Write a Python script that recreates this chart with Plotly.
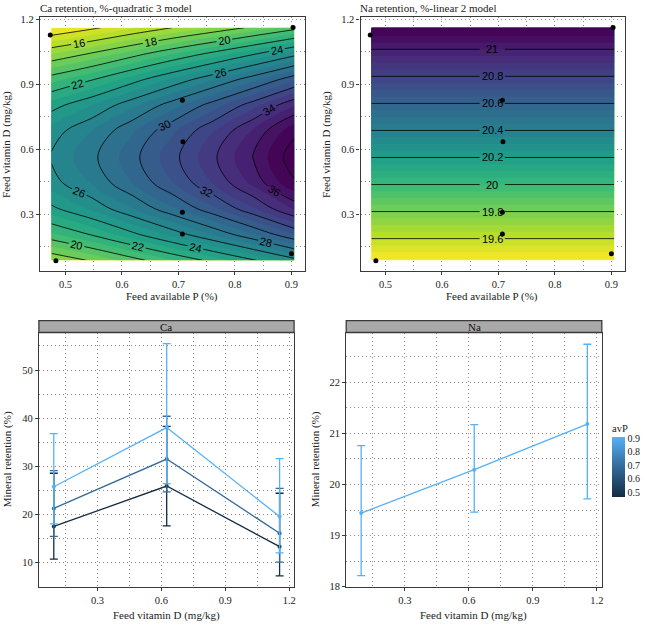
import plotly.graph_objects as go

# ---------------- data ----------------
# Ca retention response surface (read from the contour map)
P_grid = [0.475, 0.547, 0.618, 0.69, 0.762, 0.833, 0.905]
D_grid = [0.0875, 0.207, 0.326, 0.446, 0.565, 0.685, 0.804, 0.924, 1.043, 1.162]
ca_z = [
    [17.00, 18.17, 19.54, 20.96, 22.39, 23.90, 25.60],
    [20.78, 22.12, 23.70, 25.38, 27.10, 28.94, 31.01],
    [23.74, 25.21, 26.96, 28.83, 30.79, 32.88, 35.25],
    [25.58, 27.13, 28.99, 30.98, 33.09, 35.34, 37.88],
    [26.15, 27.73, 29.62, 31.65, 33.80, 36.10, 38.70],
    [25.46, 27.01, 28.86, 30.85, 32.94, 35.18, 37.72],
    [23.53, 24.99, 26.73, 28.59, 30.53, 32.61, 34.95],
    [20.57, 21.89, 23.47, 25.13, 26.83, 28.65, 30.71],
    [16.93, 18.09, 19.45, 20.88, 22.29, 23.80, 25.50],
    [12.77, 13.75, 14.88, 16.02, 17.11, 18.26, 19.55],
]
# Na retention surface (linear in vitamin D)
na_P = [0.475, 0.905]
na_D = [0.0875, 1.162]
na_z = [[19.44, 19.44], [21.16, 21.16]]
na_levels = [19.6, 19.8, 20.0, 20.2, 20.4, 20.6, 20.8, 21.0]

# design points
pts_P = [0.473, 0.903, 0.707, 0.708, 0.707, 0.707, 0.900, 0.483]
pts_D = [1.128, 1.163, 0.827, 0.635, 0.309, 0.209, 0.117, 0.085]

# interaction plots
vitD = [0.095, 0.625, 1.155]
avP_levels = [0.473, 0.70, 0.90]
ca_mean_lo = [17.5, 25.9, 13.3]
ca_low_lo = [10.7, 17.6, 7.25]
ca_high_lo = [28.55, 38.3, 24.4]
ca_mean_mid = [21.25, 31.5, 16.1]
ca_low_mid = [15.45, 24.7, 10.1]
ca_high_mid = [29.1, 40.4, 25.4]
ca_mean_hi = [25.75, 38.05, 19.55]
ca_low_hi = [18.05, 26.4, 12.0]
ca_high_hi = [36.8, 55.5, 31.6]
na_mean = [19.44, 20.29, 21.18]
na_low = [18.22, 19.46, 19.72]
na_high = [20.76, 21.17, 22.74]

# ---------------- styling ----------------
SERIF = "Liberation Serif"
SANS = "Liberation Sans"
W, H = 645, 627
line_cols = ["#132B43", "#336A98", "#56B1F7"]
avp_scale = [[0, "#132B43"], [0.5, "#336A98"], [1, "#56B1F7"]]
GRID_DASH = "1px,3px"
GRID_COL = "#8c8c8c"
NA_LABEL_P = 0.689          # where the Na contour labels sit
NA_GAP = (0.667, 0.711)     # gap left in the Na contour lines for the labels


def px_x(v):
    return v / W


def px_y(v):
    return 1 - v / H


fig = go.Figure()

# ---- top-left: Ca contour ----
fig.add_trace(go.Contour(
    x=P_grid, y=D_grid, z=ca_z, colorscale="Viridis", reversescale=True,
    zmin=12.77, zmax=38.7, showscale=False, hoverinfo="skip",
    contours=dict(coloring="fill", start=12, end=40, size=1, showlines=False),
    line=dict(width=0), xaxis="x", yaxis="y"))
fig.add_trace(go.Contour(
    x=P_grid, y=D_grid, z=ca_z, showscale=False, hoverinfo="skip",
    contours=dict(coloring="none", start=14, end=38, size=2, showlabels=True,
                  labelfont=dict(family=SANS, size=11, color="black"),
                  labelformat=".3~g"),
    line=dict(color="black", width=0.8), xaxis="x", yaxis="y"))
fig.add_trace(go.Scatter(
    x=pts_P, y=pts_D, mode="markers", marker=dict(color="black", size=5),
    cliponaxis=False, showlegend=False, xaxis="x", yaxis="y"))

# ---- top-right: Na contour ----
fig.add_trace(go.Contour(
    x=na_P, y=na_D, z=na_z, colorscale="Viridis", reversescale=True,
    zmin=19.44, zmax=21.16, showscale=False, hoverinfo="skip",
    contours=dict(coloring="fill", start=19.4, end=21.2, size=0.05, showlines=False),
    line=dict(width=0), xaxis="x2", yaxis="y2"))
for xs in ([na_P[0], NA_GAP[0]], [NA_GAP[1], na_P[1]]):
    fig.add_trace(go.Contour(
        x=xs, y=na_D, z=na_z, showscale=False, hoverinfo="skip",
        contours=dict(coloring="none", start=na_levels[0], end=na_levels[-1],
                      size=0.2, showlabels=False),
        line=dict(color="black", width=0.8), xaxis="x2", yaxis="y2"))
fig.add_trace(go.Scatter(
    x=pts_P, y=pts_D, mode="markers", marker=dict(color="black", size=5),
    cliponaxis=False, showlegend=False, xaxis="x2", yaxis="y2"))

# Na contour labels, located on the surface by linear interpolation
z0, z1 = na_z[0][0], na_z[1][0]
for lev in na_levels:
    d = na_D[0] + (lev - z0) / (z1 - z0) * (na_D[1] - na_D[0])
    fig.add_annotation(text=f"{lev:g}", x=NA_LABEL_P, y=d, xref="x2", yref="y2",
                       showarrow=False, xanchor="center", yanchor="middle",
                       font=dict(family=SANS, size=11, color="black"))

# ---- bottom-left: Ca interaction ----
ca_sets = [
    (ca_mean_lo, ca_low_lo, ca_high_lo),
    (ca_mean_mid, ca_low_mid, ca_high_mid),
    (ca_mean_hi, ca_low_hi, ca_high_hi),
]
for (m, lo, hi), col in zip(ca_sets, line_cols):
    fig.add_trace(go.Scatter(
        x=vitD, y=m, mode="lines+markers",
        line=dict(color=col, width=1.3), marker=dict(color=col, size=4),
        error_y=dict(type="data", symmetric=False,
                     array=[h - v for h, v in zip(hi, m)],
                     arrayminus=[v - l for v, l in zip(m, lo)],
                     color=col, thickness=1.3, width=4),
        showlegend=False, xaxis="x3", yaxis="y3"))

# ---- bottom-right: Na interaction ----
fig.add_trace(go.Scatter(
    x=vitD, y=na_mean, mode="lines+markers",
    line=dict(color=line_cols[2], width=1.3), marker=dict(color=line_cols[2], size=4),
    error_y=dict(type="data", symmetric=False,
                 array=[h - v for h, v in zip(na_high, na_mean)],
                 arrayminus=[v - l for v, l in zip(na_mean, na_low)],
                 color=line_cols[2], thickness=1.3, width=4),
    showlegend=False, xaxis="x4", yaxis="y4"))

# colour bar for avP
fig.add_trace(go.Scatter(
    x=[-5], y=[-5], mode="markers", showlegend=False, hoverinfo="skip",
    marker=dict(color=[avP_levels[0]], colorscale=avp_scale, cmin=0.465, cmax=0.905,
                size=1, showscale=True,
                colorbar=dict(
                    x=px_x(614), xanchor="left", y=px_y(463), yanchor="middle",
                    lenmode="pixels", len=76, thickness=13, xpad=0, ypad=0,
                    outlinewidth=0, ticks="", tickvals=[0.5, 0.6, 0.7, 0.8, 0.9],
                    ticktext=["0.5", "0.6", "0.7", "0.8", "0.9"],
                    tickfont=dict(family=SERIF, size=10, color="#222"),
                    title=dict(text="avP", side="top",
                               font=dict(family=SERIF, size=10.5, color="#222")))),
    xaxis="x4", yaxis="y4"))

# ---------------- axes ----------------
def ax(domain, rng, dtick, tick0, minor, fmt, anchor):
    return dict(
        domain=domain, range=rng, dtick=dtick, tick0=tick0, tickformat=fmt,
        showline=True, mirror=True, linecolor="#3a3a3a", linewidth=1.3,
        ticks="outside", ticklen=3, tickcolor="#3a3a3a", tickwidth=1,
        tickfont=dict(family=SERIF, size=10.5, color="#222"),
        zeroline=False, showgrid=True, gridcolor=GRID_COL, griddash=GRID_DASH,
        gridwidth=1, anchor=anchor,
        minor=dict(dtick=minor, showgrid=True, gridcolor=GRID_COL,
                   griddash=GRID_DASH, gridwidth=1, ticks=""),
    )

top_y = [px_y(271.7), px_y(14)]
bot_y = [px_y(592.3), px_y(334.3)]

fig.update_layout(
    width=W, height=H, margin=dict(l=0, r=0, t=0, b=0),
    paper_bgcolor="white", plot_bgcolor="white", showlegend=False,
    xaxis=ax([px_x(40), px_x(306)], [0.4546, 0.9242], 0.1, 0.5, 0.05, ".1f", "y"),
    yaxis=ax(top_y, [0.0388, 1.2123], 0.3, 0.3, 0.15, ".1f", "x"),
    xaxis2=ax([px_x(361.7), px_x(626.7)], [0.4559, 0.9237], 0.1, 0.5, 0.05, ".1f", "y2"),
    yaxis2=ax(top_y, [0.0388, 1.2123], 0.3, 0.3, 0.15, ".1f", "x2"),
    xaxis3=ax([px_x(39), px_x(295)], [0.025, 1.223], 0.3, 0.0, 0.15, ".1f", "y3"),
    yaxis3=ax(bot_y, [4.96, 57.8], 10, 0, 5, "d", "x3"),
    xaxis4=ax([px_x(347.3), px_x(603.7)], [0.025, 1.223], 0.3, 0.0, 0.15, ".1f", "y4"),
    yaxis4=ax(bot_y, [18, 22.97], 1, 0, 0.5, "d", "x4"),
)

# strips
for x0, x1, lab in [(39, 295, "Ca"), (347.3, 603.7, "Na")]:
    fig.add_shape(type="rect", xref="paper", yref="paper",
                  x0=px_x(x0), x1=px_x(x1), y0=px_y(334.3), y1=px_y(322.3),
                  fillcolor="#A9A9A9", line=dict(color="#3a3a3a", width=1.3))
    fig.add_annotation(text=lab, xref="paper", yref="paper",
                       x=px_x((x0 + x1) / 2), y=px_y(328.3), showarrow=False,
                       xanchor="center", yanchor="middle",
                       font=dict(family=SERIF, size=11, color="#111"))

# titles and axis labels (all centred at measured centres)
texts = [
    ("Ca retention, %-quadratic 3 model", 116.5, 5, 0),
    ("Na retention, %-linear 2 model", 430, 5, 0),
    ("Feed available P (%)", 173, 298, 0),
    ("Feed available P (%)", 494, 298, 0),
    ("Feed vitamin D (mg/kg)", 7, 143, -90),
    ("Feed vitamin D (mg/kg)", 328, 143, -90),
    ("Mineral retention (%)", 7, 463, -90),
    ("Mineral retention (%)", 316, 463, -90),
    ("Feed vitamin D (mg/kg)", 167, 621, 0),
    ("Feed vitamin D (mg/kg)", 475, 621, 0),
]
for t, x, y, ang in texts:
    fig.add_annotation(text=t, xref="paper", yref="paper", x=px_x(x), y=px_y(y),
                       showarrow=False, xanchor="center", yanchor="middle",
                       textangle=ang,
                       font=dict(family=SERIF, size=11, color="#222"))

fig.write_html("out.html")
